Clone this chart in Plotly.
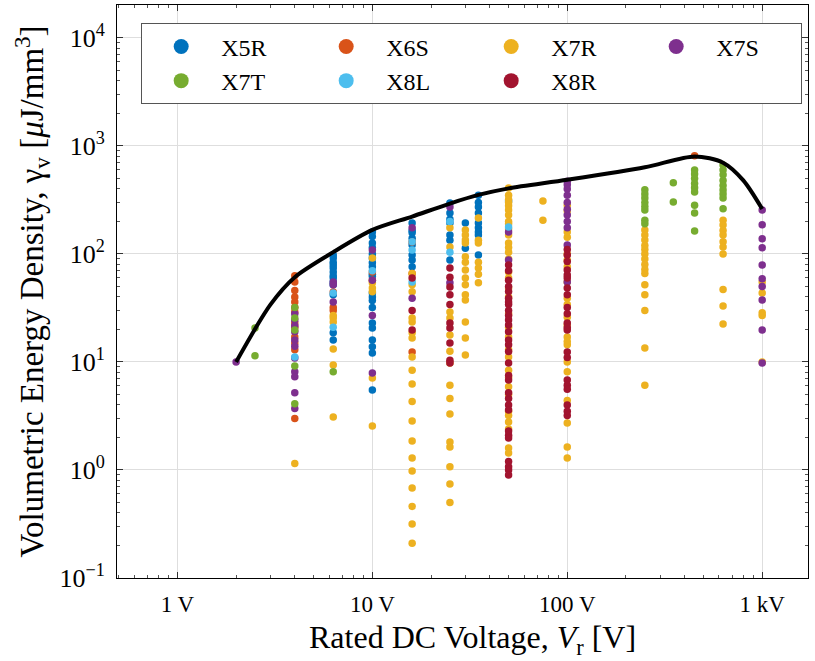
import plotly.graph_objects as go

# ---------------- data ----------------
x5r_v = [6.3]*13 + [10]*20 + [16]*8 + [25]*7 + [30]*2 + [35]*9 + [50]
x5r_e = [98, 92, 84, 79, 74, 68, 63, 60, 55, 52, 42, 18.6, 16,
         160, 145, 126, 115, 100, 92, 83, 76, 65, 62, 43.5, 40, 37, 32, 23, 20.6, 16, 13.8, 12.1, 5.5,
         194, 165, 157, 140, 121, 98, 88, 76,
         297, 240, 210, 194, 150, 134, 88,
         194, 113,
         350, 300, 272, 240, 194, 175, 160, 150, 98,
         310]

x6s_v = [4]*13 + [6.3]*3 + [10]*2 + [16]*3 + [450]
x6s_e = [63, 55, 46, 40, 36, 32, 29, 23, 21, 17, 15, 13, 3.0,
         44.5, 32, 30,
         68, 57,
         129, 66, 12.4,
         810]

x7r_v = ([4] + [6.3]*6 + [10]*6 + [16]*19 + [25]*15 + [30]*14 + [35]*7 + [50]*34 +
         [75]*2 + [100]*21 + [250]*15 + [630]*10 + [1000]*5)
x7r_e = [1.15,
         27, 25.6, 23.5, 13.2, 9.4, 3.1,
         92, 54, 48.5, 44.6, 7.1, 2.55,
         66, 52, 44.6, 25.6, 23.5, 18.6, 16.7, 11.1, 8.4, 6.25, 4.3, 2.84, 1.86, 1.29, 0.98, 0.68, 0.46, 0.316, 0.21,
         175, 116, 29, 25.6, 17.8, 12.6, 9.8, 6.1, 4.6, 3.3, 1.82, 1.63, 1.07, 0.74, 0.5,
         167, 150, 135, 126, 94, 84, 71, 60, 52, 42, 37.5, 23.5, 16.7, 11.6,
         215, 134, 126, 84, 74, 65, 54,
         408, 350, 280, 255, 230, 190, 150, 126, 104, 68, 48.5, 21, 17, 11.1, 8.4, 5.9, 3.2, 2.78, 1.6, 1.44,
         320, 300, 200, 170, 115, 90, 60, 40, 28, 13, 7.2, 5.0, 3.5, 2.4,
         310, 205,
         282, 143, 88, 39, 26, 17, 14.4, 8.1, 4.4, 2.72, 1.63, 1.29,
         250, 160, 100, 76, 55, 34, 22, 15.5, 10,
         167, 150, 135, 120, 110, 100, 90, 80, 72, 66, 52, 42, 30, 13.5, 6.1,
         205, 185, 165, 150, 130, 116, 100, 47, 33, 22.5,
         55, 43.6, 28.5, 27, 10]

x7s_v = [2] + [4]*11 + [6.3]*3 + [10]*4 + [16]*2 + [25]*2 + [50]*2 + [100]*11 + [1000]*10
x7s_e = [10,
         28, 24.5, 21.6, 19, 16, 14, 10.9, 8.1, 7.3, 5.2, 3.7,
         55, 52, 36,
         109, 57, 27, 7.9,
         175, 39,
         272, 54,
         88, 160,
         470, 437, 400, 350, 230, 200, 175, 121, 55, 300, 260,
         255, 186, 138, 114, 79, 59, 50, 37.5, 19.8, 9.8]

x7t_v = [2.5]*2 + [4]*5 + [6.3] + [250]*8 + [350]*2 + [450]*9 + [630]*9
x7t_e = [11.4, 20.6,
         32, 25.6, 19.8, 9.2, 4.1,
         8.1,
         393, 360, 330, 300, 275, 255, 205, 190,
         457, 302,
         600, 550, 500, 450, 410, 375, 282, 240, 163,
         665, 600, 540, 480, 430, 390, 360, 330, 262]

x8l_v = [4] + [6.3]*2 + [10] + [16]*3 + [25]*2 + [50]
x8l_e = [11.1, 43.6, 21, 70, 130, 109, 55, 104, 200, 178]

x8r_v = [16]*3 + [25]*10 + [50]*30 + [100]*21
x8r_e = [30, 19.8, 60,
         74, 61, 49.5, 42, 34, 23, 20.6, 15, 10.4, 9.8,
         79, 57, 39, 34, 30, 24.5, 16, 14.4, 9.8, 6.8, 4.6, 4.0, 2.1, 1.98, 1.07, 1.0, 0.9, 45, 27,
         70, 50, 36, 22, 19, 12.5, 7.5, 5.2, 3.6, 2.3, 1.2,
         98, 71, 48.5, 32, 19.8, 12.4, 6.8, 6.1, 4.0, 3.2, 110, 60, 23,
         85, 64, 42, 28, 20.8, 11, 5.6, 3.5]

# envelope curve
curve_v = [2, 3, 4, 6.3, 10, 16, 25, 35, 50, 100, 250, 450, 630, 800, 1000]
curve_e = [10, 34, 61, 104, 167, 222, 293, 352, 405, 486, 635, 800, 700, 480, 261]

series_names = ["X5R", "X6S", "X7R", "X7S", "X7T", "X8L", "X8R"]
series_colors = ["#0072BD", "#D95319", "#EDB120", "#7E2F8E", "#77AC30", "#4DBEEE", "#A2142F"]
series_v = [x5r_v, x6s_v, x7r_v, x7s_v, x7t_v, x8l_v, x8r_v]
series_e = [x5r_e, x6s_e, x7r_e, x7s_e, x7t_e, x8l_e, x8r_e]

x_tickvals = [1, 10, 100, 1000]
x_ticktext = ["1 V", "10 V", "100 V", "1 kV"]
y_tickvals = [0.1, 1, 10, 100, 1000, 10000]
y_ticktext = ["10<sup>\u22121</sup>", "10<sup>0</sup>", "10<sup>1</sup>", "10<sup>2</sup>",
              "10<sup>3</sup>", "10<sup>4</sup>"]

FONT = "Liberation Serif"

fig = go.Figure()
for name, col, v, e in zip(series_names, series_colors, series_v, series_e):
    fig.add_trace(go.Scatter(x=v, y=e, mode="markers", name=name, legendgroup=name,
                             showlegend=False,
                             marker=dict(color=col, size=7.5, line=dict(width=0))))
for name, col in zip(series_names, series_colors):
    fig.add_trace(go.Scatter(x=[None], y=[None], mode="markers", name=name, legendgroup=name,
                             marker=dict(color=col, size=15, line=dict(width=0))))

fig.add_trace(go.Scatter(x=curve_v, y=curve_e, mode="lines", showlegend=False,
                         line=dict(color="black", width=4, shape="spline", smoothing=0.8)))

minor_x = [k * 10 ** d for d in range(-1, 4) for k in range(2, 10)]
minor_y = [k * 10 ** d for d in range(-1, 5) for k in range(2, 10)]

fig.update_xaxes(type="log", range=[-0.31, 3.235], tickmode="array",
                 tickvals=x_tickvals, ticktext=x_ticktext,
                 showgrid=True, gridcolor="#dedede", gridwidth=1,
                 ticks="inside", ticklen=6, tickcolor="#333",
                 minor=dict(tickmode="array", tickvals=minor_x, ticks="inside", ticklen=3,
                            tickcolor="#555", showgrid=False),
                 showline=True, linecolor="black", linewidth=1, mirror="ticks",
                 zeroline=False, ticklabelstandoff=5,
                 tickfont=dict(family=FONT, size=23, color="black"))
fig.update_yaxes(type="log", range=[-1, 4.305], tickmode="array",
                 tickvals=y_tickvals, ticktext=y_ticktext,
                 showgrid=True, gridcolor="#dedede", gridwidth=1,
                 ticks="inside", ticklen=6, tickcolor="#333",
                 minor=dict(tickmode="array", tickvals=minor_y, ticks="inside", ticklen=3,
                            tickcolor="#555", showgrid=False),
                 showline=True, linecolor="black", linewidth=1, mirror="ticks",
                 zeroline=False, ticklabelstandoff=6,
                 tickfont=dict(family=FONT, size=26, color="black"))

fig.add_annotation(text="Rated DC Voltage, <i>V</i><sub>r</sub> [V]",
                   xref="paper", yref="paper", x=0.515, y=-0.108, xanchor="center", yanchor="middle",
                   showarrow=False, font=dict(family=FONT, size=32, color="black"))
fig.add_annotation(text="Volumetric Energy Density, \u03b3<sub>v</sub> [<i>\u03bc</i>J/mm<sup>3</sup>]",
                   xref="paper", yref="paper", x=-0.123, y=0.5, xanchor="center", yanchor="middle",
                   textangle=-90, showarrow=False,
                   font=dict(family=FONT, size=33, color="black"))

fig.update_layout(
    width=815, height=661,
    margin=dict(l=117, r=7, t=5, b=83),
    plot_bgcolor="white", paper_bgcolor="white",
    font=dict(family=FONT, color="black"),
    legend=dict(orientation="h", x=0.035, y=0.968, xanchor="left", yanchor="top",
                entrywidth=80, entrywidthmode="pixels", itemwidth=70,
                bgcolor="white", bordercolor="#555", borderwidth=1,
                font=dict(family=FONT, size=24, color="black"),
                tracegroupgap=0),
    showlegend=True,
)

fig.write_html("out.html")
